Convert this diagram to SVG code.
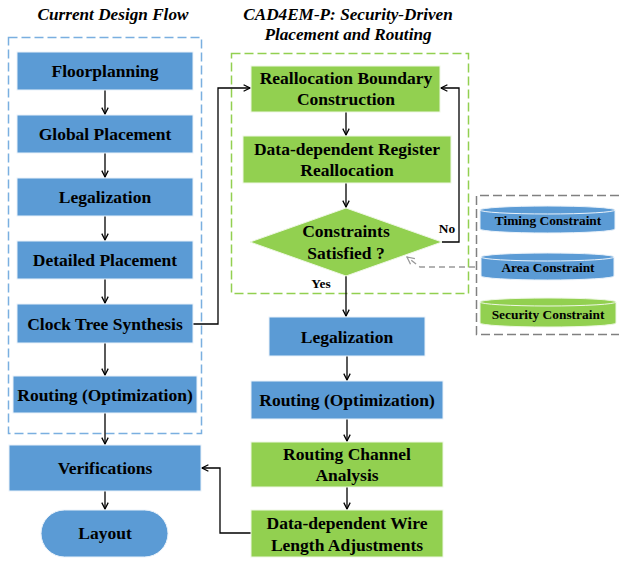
<svg xmlns="http://www.w3.org/2000/svg" width="619" height="561" viewBox="0 0 619 561">
<defs>
<style>
.t{font-family:"Liberation Serif","Times New Roman",serif;font-weight:bold;font-size:17.5px;fill:#000;text-anchor:middle}
.tt{font-family:"Liberation Serif","Times New Roman",serif;font-weight:bold;font-style:italic;font-size:17.2px;fill:#000;text-anchor:middle}
.s{font-family:"Liberation Serif","Times New Roman",serif;font-weight:bold;font-size:13.4px;fill:#000;text-anchor:middle}
.b{fill:#5B9BD5;stroke:#EAF2FA;stroke-width:1}
.g{fill:#92D050;stroke:#EEF7E4;stroke-width:1}
.c{fill:none;stroke:#000;stroke-width:1.3}
</style>
<marker id="ah" viewBox="0 0 10 10" refX="9" refY="5" markerWidth="8" markerHeight="8" markerUnits="userSpaceOnUse" orient="auto">
<polyline points="1,1 9,5 1,9" fill="none" stroke="#000" stroke-width="1.6"/>
</marker>
<marker id="ahg" viewBox="0 0 10 10" refX="9" refY="5" markerWidth="9" markerHeight="9" markerUnits="userSpaceOnUse" orient="auto">
<polyline points="1,1 9,5 1,9" fill="none" stroke="#999" stroke-width="1.4"/>
</marker>
</defs>
<rect width="619" height="561" fill="#fff"/>

<text class="tt" x="113" y="20">Current Design Flow</text>
<text class="tt" x="348" y="20">CAD4EM-P: Security-Driven</text>
<text class="tt" x="348" y="40">Placement and Routing</text>

<g id="containers">
<rect x="8.5" y="37.5" width="193" height="396" fill="none" stroke="#7AAFE0" stroke-width="1.5" stroke-dasharray="9,4"/>
<rect x="231.5" y="53.5" width="237" height="240" fill="none" stroke="#92D050" stroke-width="1.5" stroke-dasharray="9,4"/>
<path d="M619 195.5 H476.5 V334.5 H619" fill="none" stroke="#808080" stroke-width="1.5" stroke-dasharray="9,4"/>
</g>

<g id="connectors">
<line class="c" x1="105" y1="90" x2="105" y2="114" marker-end="url(#ah)"/>
<line class="c" x1="105" y1="153" x2="105" y2="177" marker-end="url(#ah)"/>
<line class="c" x1="105" y1="216" x2="105" y2="240" marker-end="url(#ah)"/>
<line class="c" x1="105" y1="279" x2="105" y2="303" marker-end="url(#ah)"/>
<line class="c" x1="105" y1="343" x2="105" y2="375" marker-end="url(#ah)"/>
<line class="c" x1="105" y1="413" x2="105" y2="444" marker-end="url(#ah)"/>
<line class="c" x1="105" y1="491" x2="105" y2="509" marker-end="url(#ah)"/>
<polyline class="c" points="193,324 218,324 218,88 250,88" marker-end="url(#ah)"/>
<line class="c" x1="346" y1="112" x2="346" y2="135" marker-end="url(#ah)"/>
<line class="c" x1="346" y1="183" x2="346" y2="207" marker-end="url(#ah)"/>
<polyline class="c" points="442,242 459,242 459,88 441,88" marker-end="url(#ah)"/>
<line class="c" x1="346" y1="276" x2="346" y2="316" marker-end="url(#ah)"/>
<line class="c" x1="347" y1="356" x2="347" y2="380" marker-end="url(#ah)"/>
<line class="c" x1="347" y1="419" x2="347" y2="441" marker-end="url(#ah)"/>
<line class="c" x1="347" y1="487" x2="347" y2="509" marker-end="url(#ah)"/>
<polyline class="c" points="251,533 220,533 220,468 202,468" marker-end="url(#ah)"/>
<polyline points="475,267 420,267 407,257" fill="none" stroke="#999" stroke-width="1.4" stroke-dasharray="6,4" marker-end="url(#ahg)"/>
</g>

<g id="floorplanning"><rect class="b" x="17" y="52" width="176" height="38"/><text class="t" x="105" y="77">Floorplanning</text></g>
<g id="global-placement"><rect class="b" x="17" y="115" width="176" height="38"/><text class="t" x="105" y="140">Global Placement</text></g>
<g id="legalization-1"><rect class="b" x="17" y="178" width="176" height="38"/><text class="t" x="105" y="203">Legalization</text></g>
<g id="detailed-placement"><rect class="b" x="17" y="241" width="176" height="38"/><text class="t" x="105" y="266">Detailed Placement</text></g>
<g id="clock-tree"><rect class="b" x="17" y="304" width="176" height="39"/><text class="t" x="105" y="330">Clock Tree Synthesis</text></g>
<g id="routing-1"><rect class="b" x="13" y="376" width="184" height="37"/><text class="t" x="105" y="401">Routing (Optimization)</text></g>
<g id="verifications"><rect class="b" x="9" y="445" width="192" height="46"/><text class="t" x="105" y="474">Verifications</text></g>
<g id="layout"><rect class="b" x="41" y="510" width="127" height="47" rx="23.5"/><text class="t" x="105" y="539">Layout</text></g>

<g id="reallocation-boundary"><rect class="g" x="251" y="66" width="189" height="46"/><text class="t" x="346" y="84">Reallocation Boundary</text><text class="t" x="346" y="105">Construction</text></g>
<g id="register-reallocation"><rect class="g" x="243" y="136" width="208" height="47"/><text class="t" x="347" y="155">Data-dependent Register</text><text class="t" x="347" y="176">Reallocation</text></g>
<g id="constraints-check"><polygon class="g" points="346,208 442,242 346,276 250,242"/><text class="t" x="346" y="237">Constraints</text><text class="t" x="346" y="259">Satisfied ?</text></g>
<text class="s" x="447" y="233">No</text>
<text class="s" x="321" y="288">Yes</text>

<g id="legalization-2"><rect class="b" x="269" y="317" width="156" height="39"/><text class="t" x="347" y="343">Legalization</text></g>
<g id="routing-2"><rect class="b" x="251" y="381" width="192" height="38"/><text class="t" x="347" y="406">Routing (Optimization)</text></g>
<g id="routing-channel"><rect class="g" x="251" y="442" width="192" height="45"/><text class="t" x="347" y="460">Routing Channel</text><text class="t" x="347" y="481">Analysis</text></g>
<g id="wire-length"><rect class="g" x="251" y="510" width="192" height="47"/><text class="t" x="347" y="529">Data-dependent Wire</text><text class="t" x="347" y="551">Length Adjustments</text></g>

<g id="timing-constraint"><path class="b" d="M480 210 A67.5 4 0 0 1 615 210 V229 A67.5 4 0 0 1 480 229 Z"/><path d="M480 210 A67.5 4 0 0 0 615 210" fill="none" stroke="#EAF2FA" stroke-width="1"/><text class="s" x="548" y="225">Timing Constraint</text></g>
<g id="area-constraint"><path class="b" d="M481 257 A66.5 4 0 0 1 614 257 V276 A66.5 4 0 0 1 481 276 Z"/><path d="M481 257 A66.5 4 0 0 0 614 257" fill="none" stroke="#EAF2FA" stroke-width="1"/><text class="s" x="548" y="272">Area Constraint</text></g>
<g id="security-constraint"><path class="g" d="M480 302 A68 4 0 0 1 616 302 V323 A68 4 0 0 1 480 323 Z"/><path d="M480 302 A68 4 0 0 0 616 302" fill="none" stroke="#EEF7E4" stroke-width="1"/><text class="s" x="548" y="319">Security Constraint</text></g>
</svg>
